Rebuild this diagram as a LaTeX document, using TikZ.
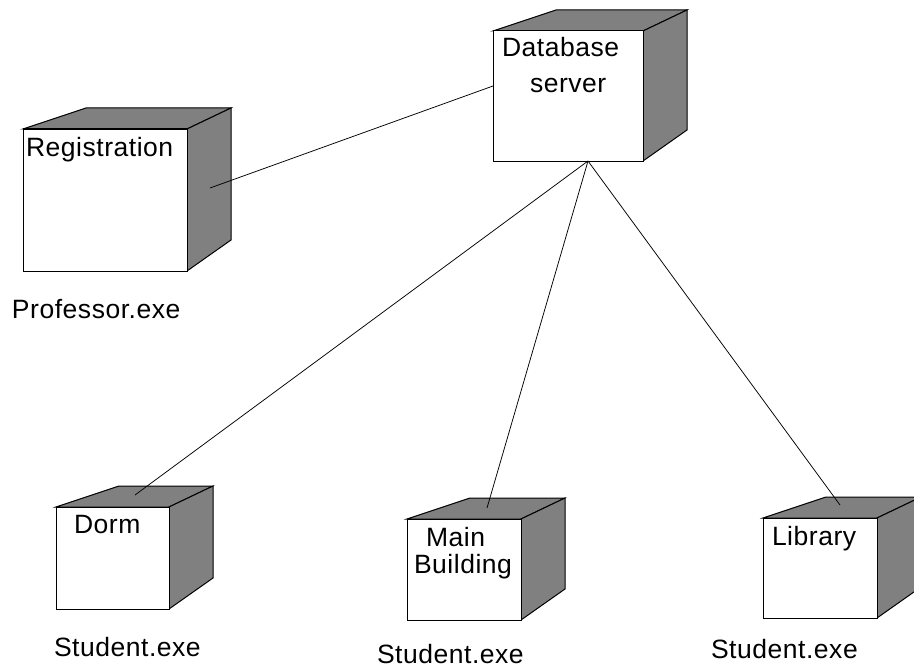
\documentclass[tikz,border=0pt]{standalone}
\usepackage{fontspec}
\setmainfont{Liberation Sans}[LetterSpace=2]
\usetikzlibrary{calc}
\definecolor{facegray}{RGB}{128,128,128}

\tikzset{
  face/.style={fill=facegray, draw=black, line width=1pt, line join=miter},
  front/.style={rectangle, fill=white, draw=black, line width=1pt,
                inner sep=0pt, outer sep=0pt},
  label/.style={anchor=base west, inner sep=0pt, outer sep=0pt,
                font=\fontsize{26.5}{30}\selectfont},
  link/.style={draw=black, line width=0.75pt}
}

% device node: name, left, top, right, bottom (pixel-like coordinates, y down)
\newcommand\devicebox[5]{%
  \pgfmathsetmacro\devw{#4-#2}%
  \pgfmathsetmacro\devh{#5-#3}%
  \filldraw[face] (#2,#3) -- (#2+63,#3-21) -- (#4+44,#3-21) -- (#4,#3) -- cycle;
  \filldraw[face] (#4,#3) -- (#4+44,#3-21) -- (#4+44,#5-31) -- (#4,#5) -- cycle;
  \node[front, minimum width=\devw pt, minimum height=\devh pt, anchor=north west]
    (#1) at (#2,#3) {};
}

\begin{document}
\begin{tikzpicture}[x=1pt, y=-1pt]
  \clip (0,0) rectangle (914,669);
  \useasboundingbox (0,0) rectangle (914,669);

  % devices
  \devicebox{db}{493}{31}{643}{161}
  \devicebox{reg}{23}{129}{187}{271}
  \devicebox{dorm}{56}{507}{169}{609}
  \devicebox{main}{407}{519}{521}{620}
  \devicebox{lib}{763}{518}{877}{618}

  % device names
  \node[label] (dbname1) at (502,57) {Database};
  \node[label] (dbname2) at (530,93) {server};
  \node[label] (regname) at (26,156) {Registration};
  \node[label] (dormname) at (74,533) {Dorm};
  \node[label] (mainname1) at (426,546) {Main};
  \node[label] (mainname2) at (414,573) {Building};
  \node[label] (libname) at (772,545) {Library};

  % executables
  \node[label] (profexe) at (12,318) {Professor.exe};
  \node[label] (dormexe) at (54,656) {Student.exe};
  \node[label] (mainexe) at (377,663) {Student.exe};
  \node[label] (libexe) at (711,658) {Student.exe};

  % connector ends
  \coordinate (dbleft) at (493,86);
  \coordinate (dbhub) at (588,161);
  \coordinate (regend) at (210,188);
  \coordinate (dormend) at (135,495);
  \coordinate (mainend) at (487,508);
  \coordinate (libend) at (840,505);

  % connectors
  \draw[link] (regend) -- (dbleft);
  \draw[link] (dbhub) -- (dormend);
  \draw[link] (dbhub) -- (mainend);
  \draw[link] (dbhub) -- (libend);
\end{tikzpicture}
\end{document}
